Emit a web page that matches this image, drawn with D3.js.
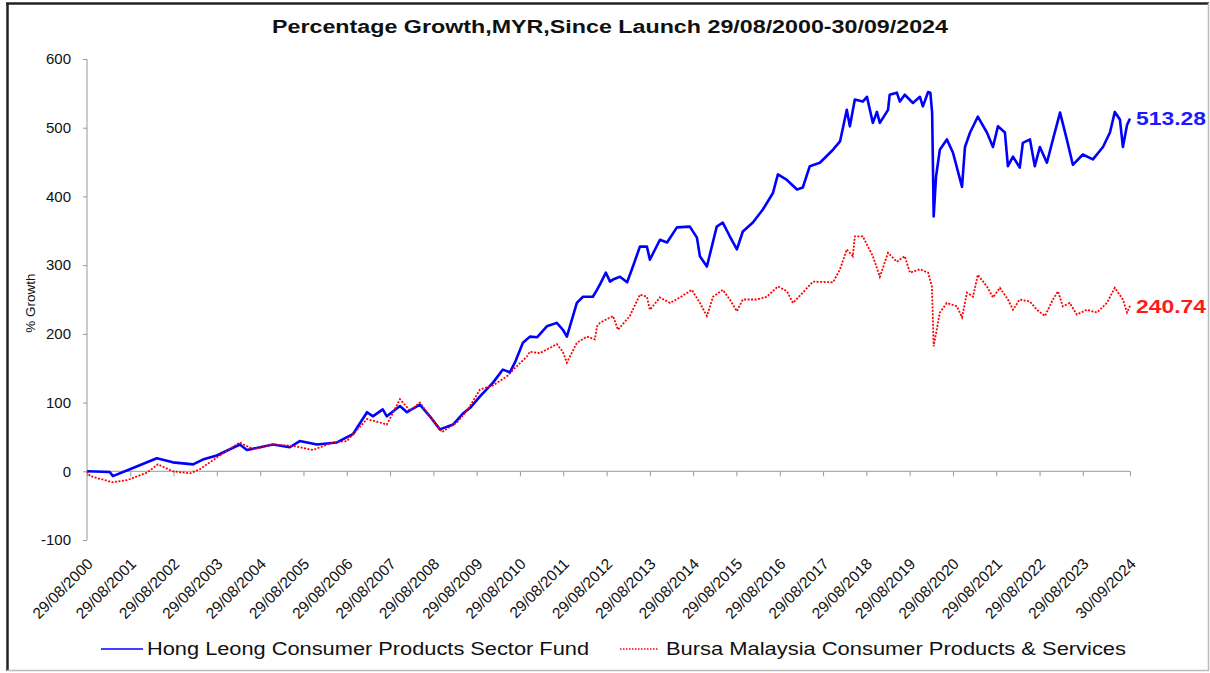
<!DOCTYPE html>
<html>
<head>
<meta charset="utf-8">
<script src="https://cdn.jsdelivr.net/npm/d3@7/dist/d3.min.js"></script>
<style>
  html, body { margin: 0; padding: 0; background: #fff; }
  svg { display: block; font-family: Arial, "Liberation Sans", sans-serif; }
</style>
</head>
<body>
<div id="chart"></div>
<script>
(function(d3) {
  'use strict';

  var fundName = 'Hong Leong Consumer Products Sector Fund';
  var indexName = 'Bursa Malaysia Consumer Products & Services';

  var tickLabels = [
    '29/08/2000', '29/08/2001', '29/08/2002', '29/08/2003', '29/08/2004',
    '29/08/2005', '29/08/2006', '29/08/2007', '29/08/2008', '29/08/2009',
    '29/08/2010', '29/08/2011', '29/08/2012', '29/08/2013', '29/08/2014',
    '29/08/2015', '29/08/2016', '29/08/2017', '29/08/2018', '29/08/2019',
    '29/08/2020', '29/08/2021', '29/08/2022', '29/08/2023', '30/09/2024'
  ];
  var yTicks = [-100, 0, 100, 200, 300, 400, 500, 600];

  var fundDates = [
    '2000-08-29', '2001-03-09', '2001-04-04', '2001-08-26', '2002-04-10', '2002-08-23',
    '2003-02-10', '2003-05-03', '2003-08-29', '2004-03-10', '2004-05-09', '2004-12-15',
    '2005-05-06', '2005-07-29', '2005-12-21', '2006-06-07', '2006-10-20', '2007-02-16',
    '2007-04-06', '2007-06-29', '2007-08-02', '2007-11-21', '2008-01-19', '2008-05-07',
    '2008-07-30', '2008-10-23', '2009-02-11', '2009-05-05', '2009-07-03', '2009-09-26',
    '2010-01-14', '2010-04-07', '2010-06-05', '2010-07-17', '2010-09-23', '2010-11-21',
    '2011-01-20', '2011-04-13', '2011-07-06', '2011-08-26', '2011-09-29', '2011-12-22',
    '2012-02-12', '2012-05-05', '2012-06-09', '2012-07-04', '2012-08-23', '2012-09-27',
    '2012-10-22', '2012-12-20', '2013-02-18', '2013-04-08', '2013-06-06', '2013-08-04',
    '2013-08-29', '2013-11-22', '2014-01-21', '2014-04-14', '2014-08-01', '2014-09-30',
    '2014-10-25', '2014-12-23', '2015-03-16', '2015-05-06', '2015-07-04', '2015-09-02',
    '2015-10-22', '2016-01-15', '2016-04-08', '2016-07-02', '2016-08-13', '2016-10-28',
    '2017-01-21', '2017-03-11', '2017-05-09', '2017-08-02', '2017-11-21', '2018-01-19',
    '2018-03-17', '2018-04-12', '2018-05-24', '2018-07-30', '2018-09-03', '2018-10-23',
    '2018-11-26', '2018-12-21', '2019-02-28', '2019-03-14', '2019-05-13', '2019-06-08',
    '2019-07-19', '2019-09-26', '2019-11-24', '2019-12-19', '2020-02-01', '2020-02-20',
    '2020-03-06', '2020-03-19', '2020-04-08', '2020-05-10', '2020-07-08', '2020-08-28',
    '2020-11-13', '2020-12-08', '2021-01-20', '2021-03-26', '2021-06-11', '2021-08-01',
    '2021-09-12', '2021-11-10', '2021-12-05', '2022-01-17', '2022-03-15', '2022-04-10',
    '2022-06-09', '2022-07-20', '2022-09-01', '2022-10-30', '2022-12-20', '2023-02-18',
    '2023-04-16', '2023-06-06', '2023-08-29', '2023-11-22', '2024-02-15', '2024-04-14',
    '2024-05-25', '2024-07-07', '2024-08-01', '2024-09-05', '2024-09-30'
  ];
  var fundValues = [
    0, -1, -7, 3, 19, 13,
    10, 17, 23, 39, 31, 39,
    35, 44, 39, 42, 54, 86,
    80, 90, 80, 95, 86, 97,
    80, 61, 68, 84, 92, 109,
    129, 148, 144, 158, 187, 196,
    195, 211, 216, 206, 196, 245,
    254, 254, 264, 272, 289, 276,
    279, 283, 275, 298, 327, 327,
    308, 337, 333, 355, 356, 340,
    313, 298, 356, 362, 342, 323,
    349, 362, 381, 405, 432, 424,
    410, 413, 444, 449, 468, 480,
    526, 502, 541, 538, 545, 507,
    523, 507, 526, 548, 551, 538,
    548, 536, 545, 531, 552, 551,
    522, 371, 429, 468, 483, 464,
    414, 472, 493, 516, 493, 472,
    502, 493, 444, 458, 442, 478,
    483, 444, 472, 449, 483, 522,
    483, 446, 461, 454, 472, 493,
    523, 512, 472, 504, 513.28
  ];

  var indexDates = [
    '2000-08-29', '2000-09-23', '2001-04-04', '2001-07-31', '2002-01-17', '2002-04-19',
    '2002-08-23', '2003-01-15', '2003-04-08', '2003-08-29', '2004-03-10', '2004-06-29',
    '2004-12-15', '2005-06-01', '2005-11-17', '2006-05-04', '2006-08-30', '2007-02-16',
    '2007-06-04', '2007-08-02', '2007-11-21', '2008-02-14', '2008-05-07', '2008-07-30',
    '2008-11-10', '2009-03-14', '2009-06-08', '2009-09-26', '2010-01-14', '2010-05-10',
    '2010-08-03', '2010-10-27', '2010-11-21', '2011-02-14', '2011-07-06', '2011-08-26',
    '2011-09-29', '2011-12-22', '2012-03-15', '2012-05-22', '2012-06-09', '2012-07-04',
    '2012-08-26', '2012-10-22', '2012-12-03', '2013-03-13', '2013-06-06', '2013-08-04',
    '2013-08-29', '2013-11-22', '2014-02-15', '2014-05-09', '2014-08-18', '2014-10-25',
    '2014-12-23', '2015-02-13', '2015-05-06', '2015-07-04', '2015-09-02', '2015-10-22',
    '2016-02-18', '2016-05-11', '2016-08-13', '2016-10-28', '2016-12-18', '2017-03-11',
    '2017-06-04', '2017-11-21', '2018-01-19', '2018-03-17', '2018-04-12', '2018-05-07',
    '2018-05-24', '2018-07-30', '2018-10-23', '2018-12-21', '2019-02-28', '2019-05-13',
    '2019-07-19', '2019-09-01', '2019-11-24', '2020-02-01', '2020-03-04', '2020-03-19',
    '2020-05-10', '2020-07-08', '2020-10-01', '2020-11-13', '2020-12-25', '2021-02-14',
    '2021-03-26', '2021-06-11', '2021-08-01', '2021-09-29', '2021-12-05', '2022-01-17',
    '2022-03-15', '2022-06-09', '2022-08-07', '2022-10-13', '2022-12-20', '2023-02-01',
    '2023-03-13', '2023-05-11', '2023-07-09', '2023-10-02', '2023-12-26', '2024-03-19',
    '2024-05-25', '2024-08-01', '2024-09-05', '2024-09-30'
  ];
  var indexValues = [
    0, -7, -16, -13, -2, 10,
    0, -3, 3, 20, 42, 32,
    39, 37, 31, 42, 44, 76,
    71, 68, 105, 88, 100, 80,
    57, 71, 88, 119, 125, 138,
    153, 167, 174, 172, 185, 174,
    158, 187, 196, 192, 211, 216,
    221, 226, 206, 226, 257, 254,
    235, 253, 245, 253, 264, 245,
    226, 254, 264, 250, 233, 250,
    250, 254, 269, 262, 245, 260,
    276, 275, 294, 323, 318, 313,
    342, 342, 313, 283, 318, 305,
    313, 289, 294, 289, 269, 182,
    231, 245, 240, 224, 260, 254,
    286, 269, 253, 267, 250, 235,
    250, 247, 235, 226, 250, 262,
    240, 245, 228, 235, 231, 245,
    267, 250, 231, 240.74
  ];

  var W = 1210, H = 673;
  var parse = d3.timeParse('%Y-%m-%d');
  var parseLabel = d3.timeParse('%d/%m/%Y');

  var fund = fundDates.map(function(d, i) { return { date: parse(d), value: fundValues[i] }; });
  var index = indexDates.map(function(d, i) { return { date: parse(d), value: indexValues[i] }; });
  var tickDates = tickLabels.map(function(t) { return parseLabel(t); });

  var svg = d3.select('#chart').append('svg')
    .attr('width', W)
    .attr('height', H);

  svg.append('rect').attr('width', W).attr('height', H).attr('fill', '#fff');

  // outer frame: dark top/left, light bottom/right
  svg.append('line').attr('x1', 6).attr('x2', 1209).attr('y1', 3.5).attr('y2', 3.5)
    .attr('stroke', '#222').attr('stroke-width', 2.5);
  svg.append('line').attr('x1', 7.5).attr('x2', 7.5).attr('y1', 3).attr('y2', 671)
    .attr('stroke', '#222').attr('stroke-width', 2.5);
  svg.append('line').attr('x1', 1208.5).attr('x2', 1208.5).attr('y1', 3).attr('y2', 671)
    .attr('stroke', '#bbb').attr('stroke-width', 1.5);
  svg.append('line').attr('x1', 7).attr('x2', 1209).attr('y1', 670.5).attr('y2', 670.5)
    .attr('stroke', '#bbb').attr('stroke-width', 1.5);

  var x = d3.scaleTime()
    .domain([parse('2000-08-29'), parse('2024-09-30')])
    .range([87, 1130]);
  var y = d3.scaleLinear()
    .domain([-100, 600])
    .range([540, 59]);

  // title
  svg.append('text')
    .attr('x', 272).attr('y', 33)
    .attr('textLength', 676).attr('lengthAdjust', 'spacingAndGlyphs')
    .attr('font-size', 18).attr('font-weight', 'bold').attr('fill', '#111')
    .text('Percentage Growth,MYR,Since Launch 29/08/2000-30/09/2024');

  // y axis
  var yAxis = svg.append('g')
    .attr('transform', 'translate(87,0)')
    .call(d3.axisLeft(y).tickValues(yTicks).tickSize(4).tickPadding(12)
      .tickFormat(function(d) { return String(d); }));
  yAxis.select('.domain').attr('stroke', '#999').attr('d', 'M0,' + y(600) + 'V' + y(-100));
  yAxis.selectAll('.tick line').attr('stroke', '#999');
  yAxis.selectAll('.tick text').attr('font-size', 15).attr('fill', '#111')
    .attr('font-family', 'Arial, "Liberation Sans", sans-serif');

  svg.append('text')
    .attr('transform', 'translate(35,' + 303 + ') rotate(-90)')
    .attr('text-anchor', 'middle')
    .attr('font-size', 13.5).attr('fill', '#111')
    .text('% Growth');

  // x axis on the zero line
  var xAxis = svg.append('g')
    .attr('transform', 'translate(0,' + y(0) + ')')
    .call(d3.axisBottom(x).tickValues(tickDates).tickSize(5).tickFormat(''));
  xAxis.select('.domain').attr('stroke', '#999').attr('d', 'M' + x.range()[0] + ',0H' + x.range()[1]);
  xAxis.selectAll('.tick line').attr('stroke', '#999');

  // rotated date labels below the plot
  svg.append('g').selectAll('text')
    .data(tickDates)
    .enter().append('text')
    .attr('transform', function(d) { return 'translate(' + (x(d) + 3) + ',' + 561 + ') rotate(-45)'; })
    .attr('text-anchor', 'end')
    .attr('dy', '0.35em')
    .attr('font-size', 15.5).attr('fill', '#111')
    .text(function(d, i) { return tickLabels[i]; });

  var line = d3.line()
    .x(function(d) { return x(d.date); })
    .y(function(d) { return y(d.value); });

  svg.append('path')
    .datum(fund)
    .attr('d', line)
    .attr('fill', 'none')
    .attr('stroke', '#0000ff')
    .attr('stroke-width', 2.6)
    .attr('stroke-linejoin', 'round');

  svg.append('path')
    .datum(index)
    .attr('d', line)
    .attr('fill', 'none')
    .attr('stroke', '#ff0000')
    .attr('stroke-width', 1.8)
    .attr('stroke-dasharray', '2,1.5');

  // end value labels
  var lastFund = fund[fund.length - 1];
  var lastIndex = index[index.length - 1];
  svg.append('text')
    .attr('x', 1136).attr('y', y(lastFund.value)).attr('dy', '0.36em')
    .attr('textLength', 70).attr('lengthAdjust', 'spacingAndGlyphs')
    .attr('font-size', 19).attr('font-weight', 'bold').attr('fill', '#1a1aff')
    .text(d3.format('.2f')(lastFund.value));
  svg.append('text')
    .attr('x', 1136).attr('y', y(lastIndex.value)).attr('dy', '0.36em')
    .attr('textLength', 70).attr('lengthAdjust', 'spacingAndGlyphs')
    .attr('font-size', 19).attr('font-weight', 'bold').attr('fill', '#ff1a1a')
    .text(d3.format('.2f')(lastIndex.value));

  // legend
  var legend = svg.append('g');
  legend.append('line').attr('x1', 101).attr('x2', 143).attr('y1', 649).attr('y2', 649)
    .attr('stroke', '#0000ff').attr('stroke-width', 1.6);
  legend.append('text').attr('x', 147).attr('y', 649).attr('dy', '0.35em')
    .attr('textLength', 442).attr('lengthAdjust', 'spacingAndGlyphs')
    .attr('font-size', 17.5).attr('fill', '#111')
    .text(fundName);
  legend.append('line').attr('x1', 620).attr('x2', 659).attr('y1', 649).attr('y2', 649)
    .attr('stroke', '#ff0000').attr('stroke-width', 1.3).attr('stroke-dasharray', '1.5,1.5');
  legend.append('text').attr('x', 666).attr('y', 649).attr('dy', '0.35em')
    .attr('textLength', 460).attr('lengthAdjust', 'spacingAndGlyphs')
    .attr('font-size', 17.5).attr('fill', '#111')
    .text(indexName);
}(d3));
</script>
</body>
</html>
